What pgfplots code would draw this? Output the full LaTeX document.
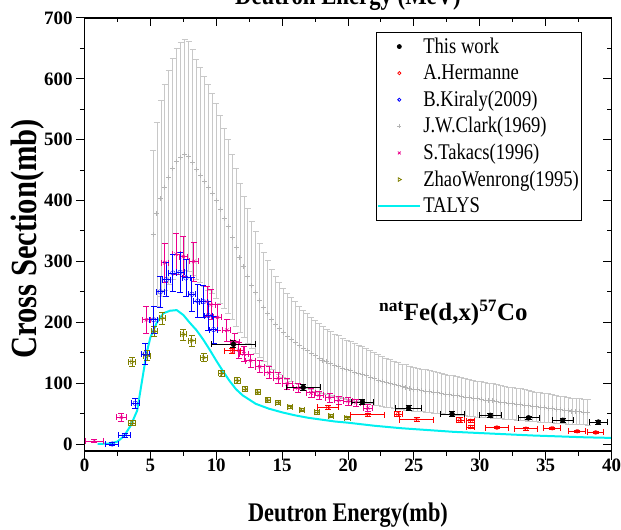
\documentclass[border=0pt]{standalone}
\usepackage{pgfplots}
\pgfplotsset{compat=1.18}
\usepackage{pgfplotstable}
\usepackage{fontspec}
\setmainfont{Liberation Serif}
\newfontfamily\condensed[FakeStretch=0.83]{Liberation Serif}
\definecolor{clarkgray}{RGB}{200,200,200}
\definecolor{clarkmark}{RGB}{180,180,180}
\definecolor{olivez}{RGB}{128,128,0}
\definecolor{talys}{RGB}{0,240,240}

\pgfplotstableread{
E s dx dy
11.3 164 1.7 6
16.6 93 1.3 5
21.1 69 0.85 4
24.6 59 1.0 4
27.9 49 0.9 4
30.8 47 0.85 3
33.7 43 0.8 3
36.3 39 0.8 3
39.0 36 0.7 3
}\thiswork

\pgfplotstableread{
E s dx dy
11.2 153 0.6 4
18.5 60 0.8 3
21.5 48 1.3 3
23.8 49 0.3 4
25.2 40 1.3 3
28.5 39 0.3 4
29.3 38 0.3 3
29.3 28 0.3 3
31.3 27 0.9 2
33.5 25 0.85 2
35.5 26 0.65 2
37.4 21 0.65 2
38.8 19 0.6 2
}\hermanne

\pgfplotstableread{
E s dx dy
2.1 0 0.5 2
3.05 14 0.45 3
3.85 67 0.3 8
4.6 148 0.3 17
5.25 204 0.3 22
5.75 250 0.3 25
6.2 270 0.3 28
6.7 281 0.3 30
7.25 282 0.3 33
7.7 273 0.3 30
8.15 246 0.3 28
8.6 235 0.3 27
9.0 234 0.3 26
9.4 211 0.3 24
9.8 188 0.3 22
}\kiraly

\pgfplotstableread{
E s
5.2 345
5.5 378
5.8 403
6.1 422
6.4 438
6.7 452
7.0 464
7.3 471
7.6 475
7.9 472
8.2 463
8.5 451
8.8 442
9.1 432
9.4 422
9.7 412
10.0 400
10.3 386
10.6 371
10.9 357
11.2 340
11.5 323
11.8 306
12.1 291
12.4 276
12.7 261
13.0 249
13.3 236
13.6 225
13.9 215
14.2 205
14.5 197
14.8 190
15.1 183
15.4 177
15.7 172
16.0 167
16.3 162
16.6 157
16.9 153
17.2 149
17.5 145
17.8 141
18.1 138
18.4 135
18.7 132
19.0 129
19.3 127
19.6 124
19.9 122
20.2 120
20.5 118
20.8 116
21.1 114
21.4 112
21.7 110
22.0 107
22.3 105
22.6 103
22.9 101
23.2 99
23.5 97
23.8 96
24.1 94
24.4 93
24.7 91
25.0 90
25.3 89
25.6 88
25.9 87
26.2 86
26.5 85
26.8 84
27.1 83
27.4 82
27.7 81
28.0 80
28.3 79
28.6 78
28.9 77
29.2 76
29.5 75
29.8 74
30.1 73
30.4 72
30.7 71.5
31.0 71
31.3 70
31.6 69
31.9 68
32.2 67
32.5 66.5
32.8 65.5
33.1 65
33.4 64
33.7 63
34.0 62
34.3 61
34.6 60
34.9 59.5
35.2 59
35.5 58
35.8 57
36.1 56
36.4 55.5
36.7 55
37.0 54
37.3 53.5
37.6 53
37.9 52.5
38.2 52
}\clark

\pgfplotstableread{
E s dx dy
0.75 5 0.65 2
2.8 44 0.35 7
4.7 204 0.3 22
6.1 298 0.3 32
6.95 312 0.3 34
7.5 308 0.3 33
8.3 300 0.35 32
9.3 234 0.3 25
9.6 229 0.3 25
10.1 208 0.3 22
10.8 187 0.3 18
11.4 168 0.35 14
11.7 154 0.35 13
12.1 148 0.35 12
12.6 137 0.35 11
13.3 127 0.35 10
14.0 117 0.35 10
14.7 108 0.35 9
15.4 99 0.35 9
16.2 92 0.35 8
17.2 84 0.35 8
17.8 80 0.35 7
18.6 76 0.35 7
19.3 72 0.35 7
20.0 70 0.35 6
20.6 68 0.35 6
21.5 59 0.35 6
}\takacs

\pgfplotstableread{
E s dx dy
3.6 135 0.3 7
3.6 34 0.3 4
4.75 145 0.25 8
5.3 185 0.25 9
5.9 207 0.25 10
7.5 180 0.25 9
8.15 170 0.25 9
9.05 142 0.25 7
10.4 116 0.2 5
11.6 104 0.2 5
12.2 90 0.2 4
13.15 85 0.2 4
13.9 72 0.2 4
14.7 68 0.2 3
15.6 61 0.2 3
16.5 56 0.2 3
17.65 52 0.2 3
18.7 46 0.2 3
19.95 43 0.2 3
}\zhao

\pgfplotstableread{
E s
1.0 0
2.0 1
2.5 4
3.0 13
3.5 30
4.0 55
4.3 95
4.7 148
5.0 175
5.5 200
6.0 215
6.5 219
7.0 220
7.5 212
8.0 199
8.5 187
9.0 172
9.5 155
10.0 137
10.5 120
11.0 104
11.5 90
12.0 80
12.5 73
13.0 66
14.0 58
15.0 52
16.0 47
17.0 43
18.0 40
19.0 37
20.0 35
22.0 30
24.0 26
26.0 23
28.0 20
30.0 18
32.0 16
34.0 14
36.0 12.5
38.0 11
40.0 10
}\talysdata

\pgfplotsset{
  common/.style={
    at={(0,0)}, anchor=south west,
    scale only axis, width=527bp, height=433bp,
    xmin=0, xmax=40, ymin=-11.5, ymax=700,
    xtick={0,5,...,40}, ytick={0,100,...,700},
    minor x tick num=1, minor y tick num=1,
    axis line style={line width=1.2bp},
    major tick length=8.5bp, minor tick length=4.5bp,
    every tick/.style={line width=1bp, black},
  },
  errs/.style={
    error bars/.cd, x dir=both, x explicit, y dir=both, y explicit,
    error bar style={line width=0.8bp},
    error mark options={rotate=90, mark size=3bp, line width=0.8bp},
  },
}

\begin{document}
\begin{tikzpicture}
\begin{axis}[common,
  clip=false,
  xtick pos=left, ytick pos=left, tick align=outside,
  /pgf/number format/assume math mode=true,
  tick label style={font=\fontsize{19}{19}\selectfont\bfseries},
  xticklabel style={yshift=4bp},
  xlabel={Deutron Energy(mb)},
  xlabel style={at={(axis description cs:0.5,0)}, anchor=base, yshift=-70bp,
    font=\condensed\bfseries\fontsize{27}{27}\selectfont},
  ylabel={Cross Section(mb)},
  ylabel style={at={(axis description cs:0,0.49)}, anchor=center, rotate=0, yshift=56.5bp,
    font=\condensed\bfseries\fontsize{37}{37}\selectfont},
  title={Deutron Energy (MeV)},
  title style={at={(axis description cs:0.5,1)}, anchor=base, yshift=8bp,
    font=\condensed\bfseries\fontsize{27.5}{28}\selectfont},
  legend image code/.code={\draw[mark repeat=2,mark phase=2,#1] plot coordinates {(0bp,0bp) (21bp,0bp) (42bp,0bp)};},
  legend style={at={(0.553,0.968)}, anchor=north west, draw=black, line width=0.8bp,
    fill=white, inner sep=1bp, row sep=0pt, column sep=0pt,
    font=\condensed\fontsize{22.5}{24}\selectfont,
    nodes={inner xsep=2bp, inner ysep=2.8bp, text height=17bp, text depth=4bp}},
  legend cell align=left,
]
% Clark (background)
\addplot[forget plot, only marks, mark=+, mark size=2.5bp, color=clarkmark, line width=1bp,
  error bars/.cd, y dir=both, y fixed relative=0.4,
  error bar style={line width=0.8bp, clarkgray},
  error mark options={rotate=90, mark size=3bp, line width=0.8bp, clarkgray}]
  table[x=E, y=s] {\clark};
% TALYS
\addplot[forget plot, no marks, color=talys, line width=2bp] table[x=E, y=s] {\talysdata};
% Zhao
\addplot[forget plot, only marks, mark=triangle, mark size=2.5bp, color=olivez, mark options={rotate=-90}, errs]
  table[x=E, y=s, x error=dx, y error=dy] {\zhao};
% Takacs
\addplot[forget plot, only marks, mark=x, mark size=2.5bp, color=magenta, errs]
  table[x=E, y=s, x error=dx, y error=dy] {\takacs};
% Kiraly
\addplot[forget plot, only marks, mark=o, mark size=2.3bp, color=blue, errs]
  table[x=E, y=s, x error=dx, y error=dy] {\kiraly};
% Hermanne
\addplot[forget plot, only marks, mark=o, mark size=2bp, color=red, errs]
  table[x=E, y=s, x error=dx, y error=dy] {\hermanne};
% This work
\addplot[forget plot, only marks, mark=*, mark size=2.5bp, color=black, errs]
  table[x=E, y=s, x error=dx, y error=dy] {\thiswork};

\addlegendimage{only marks, mark=*, mark size=2bp, black}
\addlegendentry{This work}
\addlegendimage{only marks, mark=o, mark size=1.6bp, red}
\addlegendentry{A.Hermanne}
\addlegendimage{only marks, mark=o, mark size=1.6bp, blue}
\addlegendentry{B.Kiraly(2009)}
\addlegendimage{only marks, mark=+, mark size=2bp, clarkmark}
\addlegendentry{J.W.Clark(1969)}
\addlegendimage{only marks, mark=x, mark size=2bp, magenta}
\addlegendentry{S.Takacs(1996)}
\addlegendimage{only marks, mark=triangle, mark size=2bp, olivez, mark options={rotate=-90}}
\addlegendentry{ZhaoWenrong(1995)}
\addlegendimage{no marks, talys, line width=2bp}
\addlegendentry{TALYS}

\node[font=\fontsize{25}{25}\selectfont\bfseries] at (axis cs:28,216)
  {\textsuperscript{nat}Fe(d,x)\textsuperscript{57}Co};
\end{axis}
\begin{axis}[common,
  xtick pos=right, ytick pos=right, tick align=inside,
  xticklabels={}, yticklabels={},
]
\end{axis}
\pgfresetboundingbox
\useasboundingbox (-84.5bp,-79bp) rectangle (536.5bp,451bp);
\end{tikzpicture}
\end{document}
